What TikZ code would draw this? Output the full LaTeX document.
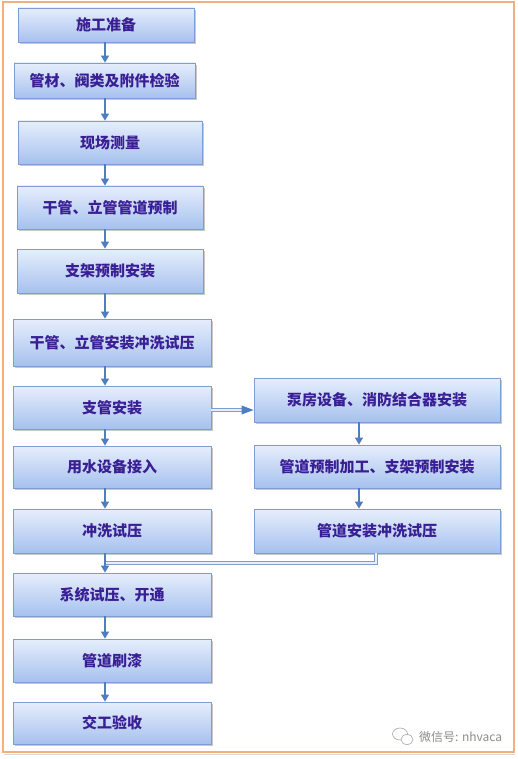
\documentclass[tikz,border=0pt]{standalone}
\usepackage{fontspec}
\setmainfont{Liberation Sans}
\newfontfamily\cjk{Noto Sans CJK SC}
\usetikzlibrary{arrows.meta,shadows}
\definecolor{boxtop}{HTML}{E6EEFC}
\definecolor{boxbot}{HTML}{A6C1EE}
\definecolor{boxline}{HTML}{7E9ED2}
\definecolor{txt}{HTML}{3A1E94}
\definecolor{arrc}{HTML}{4F7EBD}
\definecolor{frame}{HTML}{F4B07C}
\tikzset{
  box/.style={rectangle, draw=boxline, line width=0.8pt, top color=boxtop, bottom color=boxbot,
    drop shadow={shadow xshift=1.5pt, shadow yshift=-2pt, opacity=0.35, fill=black!60},
    text=txt, font=\cjk\bfseries\fontsize{15}{18}\selectfont, inner sep=0pt},
  arr/.style={draw=arrc, line width=1.3pt, -{Triangle[length=7pt,width=8pt]}},
  dbl/.style={draw=boxline, line width=0.7pt, double=boxtop, double distance=2.2pt},
  wm/.style={text=black!45, font=\cjk\fontsize{12}{14}\selectfont, inner sep=0pt}
}
\begin{document}
\begin{tikzpicture}[x=1pt,y=-1pt]
\useasboundingbox (0,0) rectangle (517,759);
\fill[white] (0,0) rectangle (517,759);
\draw[frame, line width=1.6pt] (3,2) rectangle (514,752);
\draw[black!15, line width=1pt] (4,754) -- (515,754);
\coordinate (ax) at (105,0);
\coordinate (bx) at (359,0);
\node[box, minimum width=176pt, minimum height=34pt] (c1) at (106,25) {施工准备};
\node[box, minimum width=181pt, minimum height=35pt] (c2) at (104.5,80.5) {管材、阀类及附件检验};
\node[box, minimum width=184pt, minimum height=43pt] (c3) at (110,142.5) {现场测量};
\node[box, minimum width=186pt, minimum height=43pt] (c4) at (110,207.5) {干管、立管管道预制};
\node[box, minimum width=186pt, minimum height=44pt] (c5) at (110,271) {支架预制安装};
\node[box, minimum width=198pt, minimum height=47pt] (c6) at (112,342.5) {干管、立管安装冲洗试压};
\node[box, minimum width=198pt, minimum height=43pt] (c7) at (112,407.5) {支管安装};
\node[box, minimum width=198pt, minimum height=42pt] (c8) at (112,467) {用水设备接入};
\node[box, minimum width=198pt, minimum height=44pt] (c9) at (112,531) {冲洗试压};
\node[box, minimum width=198pt, minimum height=43pt] (c10) at (112,594.5) {系统试压、开通};
\node[box, minimum width=198pt, minimum height=43pt] (c11) at (112,660.5) {管道刷漆};
\node[box, minimum width=198pt, minimum height=42pt] (c12) at (112,723) {交工验收};
\node[box, minimum width=246pt, minimum height=44pt] (r1) at (377,400) {泵房设备、消防结合器安装};
\node[box, minimum width=246pt, minimum height=43pt] (r2) at (377,466.5) {管道预制加工、支架预制安装};
\node[box, minimum width=246pt, minimum height=44pt] (r3) at (377,531) {管道安装冲洗试压};
% main column arrows
\foreach \a/\b in {c1/c2,c2/c3,c3/c4,c4/c5,c5/c6,c6/c7,c7/c8,c8/c9,c9/c10,c10/c11,c11/c12}
  \draw[arr] (\a.south -| ax) -- (\b.north -| ax);
\foreach \a/\b in {r1/r2,r2/r3}
  \draw[arr] (\a.south -| bx) -- (\b.north -| bx);
% branch arrow
\coordinate (bs) at ([yshift=-2.5pt]c7.east);
\coordinate (be) at (r1.west |- bs);
\draw[dbl] (bs) -- ([xshift=-9pt]be);
\fill[arrc] (be) -- ++(-12,-4.5) -- ++(0,9) -- cycle;
% merge line
\coordinate (m1) at (105,563);
\coordinate (m2) at (376,563);
\draw[dbl] ([xshift=1pt]m1) -- (m2) -- (r3.south -| m2);
% watermark
\draw[black!35, fill=white, line width=0.6pt] (400,734) ellipse (7.5pt and 6pt);
\draw[black!35, fill=white, line width=0.6pt] (407,739.5) ellipse (6pt and 5pt);
\node[wm, anchor=west] (wmt) at (419,737) {微信号: nhvaca};
\end{tikzpicture}
\end{document}
